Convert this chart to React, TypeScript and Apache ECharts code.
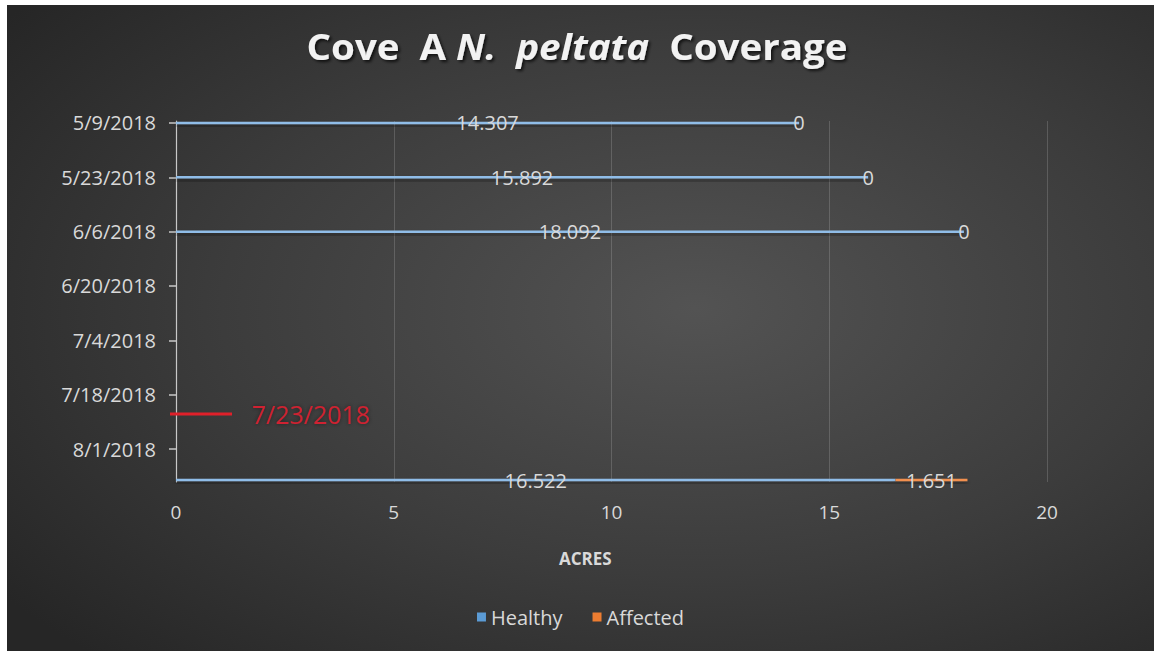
import React, { useEffect, useRef } from "react";
import * as echarts from "echarts";

// Survey dates and coverage (acres)
const surveyDates = ["5/9/2018", "5/23/2018", "6/6/2018", "8/9/2018"];
const healthy = [14.307, 15.892, 18.092, 16.522];
const affected = [0, 0, 0, 1.651];

// Date axis: one band per day, labelled every two weeks
const axisStart = "5/9/2018";
const axisEnd = "8/9/2018";
const tickStepDays = 14;

// Value axis ticks
const acresMin = 0;
const acresMax = 20;
const acresStep = 5;

// Highlighted event date
const markerDate = "7/23/2018";

const DAY = 86400000;
function parseDate(s: string): number {
  const [m, d, y] = s.split("/").map(Number);
  return Date.UTC(y, m - 1, d);
}
function formatDate(t: number): string {
  const dt = new Date(t);
  return `${dt.getUTCMonth() + 1}/${dt.getUTCDate()}/${dt.getUTCFullYear()}`;
}

const dayCategories: string[] = [];
for (let t = parseDate(axisStart); t <= parseDate(axisEnd); t += DAY) {
  dayCategories.push(formatDate(t));
}

const FONT = "'Open Sans', sans-serif";
const TEXT = "#d9d9d9";

export default function App() {
  const ref = useRef<HTMLDivElement>(null);

  useEffect(() => {
    if (!ref.current) return;
    const chart = echarts.init(ref.current, null, { renderer: "svg" });

    const barLabel = {
      show: true,
      position: "inside",
      color: TEXT,
      fontFamily: FONT,
      fontSize: 20,
      formatter: (p: any) => String(p.value[0]),
    };

    const titleStyle = (italic: boolean) => ({
      fontFamily: FONT,
      fontSize: 35,
      fontWeight: "bold",
      fontStyle: italic ? "italic" : "normal",
      fill: "#f2f2f2",
      textShadowColor: "rgba(0,0,0,0.7)",
      textShadowBlur: 3,
      textShadowOffsetX: 2,
      textShadowOffsetY: 2,
    });

    // Chart title, slightly widened
    const chartTitle = {
      type: "text",
      x: 577 - 7,
      y: 47 - 5,
      scaleX: 1.1,
      style: {
        text: "{n|Cove  A }{i|N.  peltata}{n|  Coverage}",
        align: "center",
        verticalAlign: "middle",
        rich: { n: titleStyle(false), i: titleStyle(true) },
      },
    };

    const acresTitle = {
      type: "text",
      left: 584 - 7 - 25,
      top: 545,
      style: { text: "ACRES", fill: TEXT, font: `bold 17px ${FONT}` },
    };

    const option: any = {
      animation: false,
      backgroundColor: new echarts.graphic.RadialGradient(0.6, 0.47, 0.75, [
        { offset: 0, color: "#535353" },
        { offset: 0.55, color: "#3c3c3c" },
        { offset: 1, color: "#262626" },
      ]),
      textStyle: { fontFamily: FONT },
      legend: {
        left: "center",
        top: 597,
        icon: "rect",
        itemWidth: 9,
        itemHeight: 9,
        itemGap: 30,
        textStyle: { color: TEXT, fontFamily: FONT, fontSize: 20 },
        data: [
          { name: "Healthy", itemStyle: { color: "#5b9bd5" } },
          { name: "Affected", itemStyle: { color: "#ed7d31" } },
        ],
      },
      grid: { left: 169, right: 107, top: 116, bottom: 169 },
      xAxis: {
        type: "value",
        min: acresMin,
        max: acresMax,
        interval: acresStep,
        axisLine: { show: false },
        axisTick: { show: false },
        axisLabel: { color: TEXT, fontFamily: FONT, fontSize: 19, margin: 20 },
        splitLine: { lineStyle: { color: "rgba(255,255,255,0.16)", width: 1 } },
      },
      yAxis: {
        type: "category",
        inverse: true,
        data: dayCategories,
        axisLine: { show: true, lineStyle: { color: "#c8c8c8", width: 1.2 } },
        axisTick: {
          show: true,
          interval: tickStepDays - 1,
          alignWithLabel: true,
          length: 7,
          lineStyle: { color: "#c8c8c8", width: 1.5 },
        },
        axisLabel: {
          interval: tickStepDays - 1,
          color: TEXT,
          fontFamily: FONT,
          fontSize: 20,
          margin: 20,
        },
        splitLine: { show: false },
      },
      series: [
        {
          name: "Healthy",
          type: "bar",
          stack: "cover",
          barWidth: 2.5,
          itemStyle: {
            color: "#90bde8",
            shadowColor: "rgba(0,0,0,0.5)",
            shadowBlur: 4,
            shadowOffsetY: 3,
          },
          label: barLabel,
          data: surveyDates.map((d, i) => [healthy[i], d]),
        },
        {
          name: "Affected",
          type: "bar",
          stack: "cover",
          barWidth: 2.5,
          itemStyle: {
            color: "#f29050",
            shadowColor: "rgba(0,0,0,0.5)",
            shadowBlur: 4,
            shadowOffsetY: 3,
          },
          label: barLabel,
          data: surveyDates.map((d, i) => [affected[i], d]),
        },
      ],
      graphic: [chartTitle, acresTitle],
    };

    chart.setOption(option);

    // Red marker for the event date, placed through the axes
    const p = chart.convertToPixel({ gridIndex: 0 }, [acresMin, markerDate]) as number[];
    if (p && isFinite(p[0]) && isFinite(p[1])) {
      chart.setOption({
        graphic: [
          chartTitle,
          acresTitle,
          {
            type: "line",
            shape: { x1: p[0] - 6, y1: p[1], x2: p[0] + 56, y2: p[1] },
            style: { stroke: "#e0202a", lineWidth: 3 },
            z: 10,
          },
          {
            type: "text",
            x: p[0] + 76,
            y: p[1],
            style: {
              text: markerDate,
              fill: "#cf2230",
              font: `25px ${FONT}`,
              verticalAlign: "middle",
              textShadowColor: "rgba(0,0,0,0.5)",
              textShadowBlur: 4,
            },
            z: 10,
          },
        ],
      });
    }

    return () => chart.dispose();
  }, []);

  return (
    <div
      style={{
        position: "fixed",
        left: 0,
        top: 0,
        width: 1154,
        height: 651,
        background: "#ffffff",
      }}
    >
      <div
        ref={ref}
        style={{ position: "absolute", left: 7, top: 5, width: 1147, height: 646 }}
      />
    </div>
  );
}
